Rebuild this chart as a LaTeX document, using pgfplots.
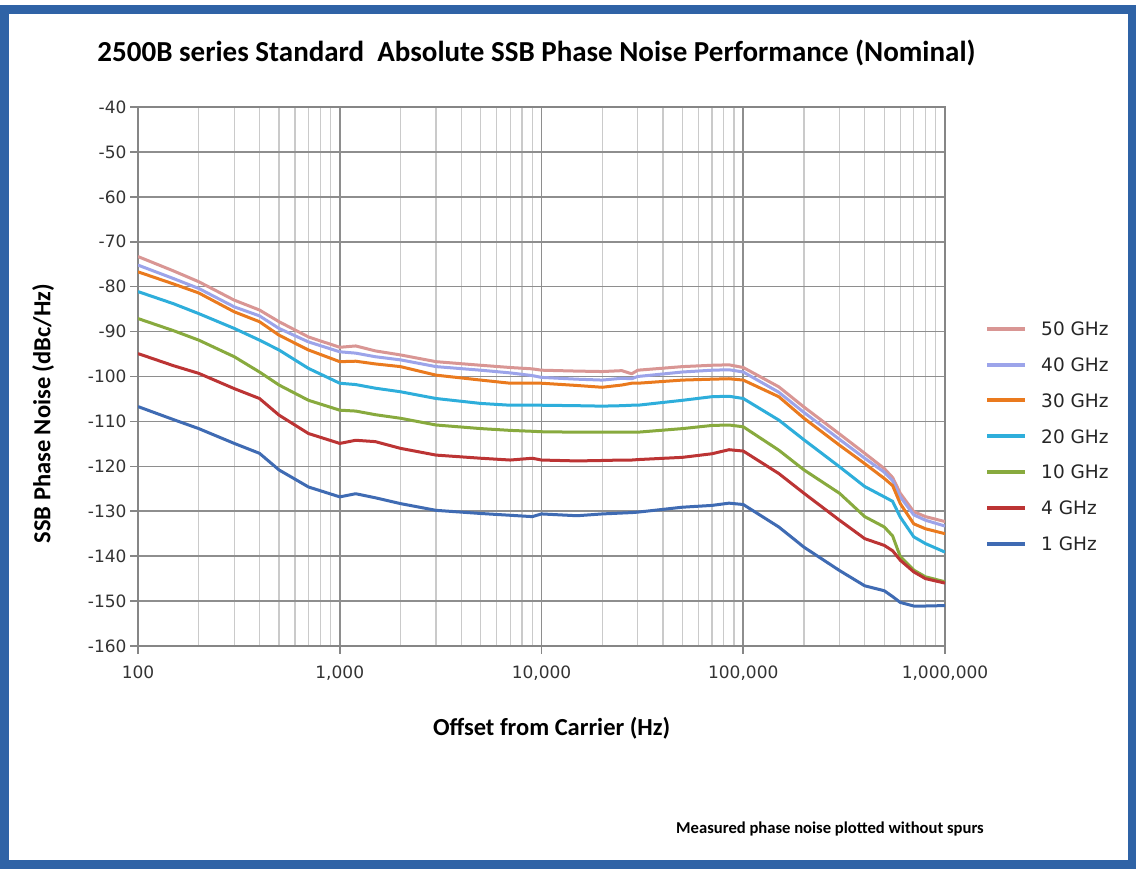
\documentclass[border=0pt]{standalone}
\usepackage{pgfplots}
\pgfplotsset{compat=1.18}
\usepackage{pgfplotstable}
\usepackage{fontspec}
\setmainfont{Carlito}
\newfontfamily\dejavu{DejaVu Sans}

\definecolor{frameblue}{HTML}{2F63A6}
\definecolor{axgray}{HTML}{868686}
\definecolor{majgrid}{HTML}{8E8E8E}
\definecolor{mingrid}{HTML}{CACACA}
\definecolor{c50}{HTML}{D99694}
\definecolor{c40}{HTML}{9CA4EA}
\definecolor{c30}{HTML}{EA7A1E}
\definecolor{c20}{HTML}{2EAEDB}
\definecolor{c10}{HTML}{88AA3E}
\definecolor{c4}{HTML}{BC3434}
\definecolor{c1}{HTML}{3F6BB3}

% offset (Hz)  50GHz  40GHz  30GHz  20GHz  10GHz  4GHz  1GHz
\pgfplotstableread{
f       g50     g40     g30     g20     g10     g4      g1
100     -73.3   -75.2   -76.7   -81.1   -87.1   -94.9   -106.7
150     -76.5   -78.2   -79.4   -83.8   -89.8   -97.6   -109.6
200     -78.9   -80.4   -81.4   -86.0   -91.9   -99.3   -111.6
300     -83.0   -84.5   -85.6   -89.3   -95.6   -102.7  -114.9
400     -85.2   -86.5   -87.8   -91.9   -99.0   -104.9  -117.1
500     -87.8   -89.3   -90.8   -94.1   -101.9  -108.6  -120.8
700     -91.2   -92.3   -94.1   -98.2   -105.3  -112.7  -124.6
1000    -93.5   -94.5   -96.7   -101.5  -107.5  -114.9  -126.8
1200    -93.2   -94.8   -96.6   -101.8  -107.7  -114.2  -126.1
1500    -94.3   -95.6   -97.2   -102.6  -108.5  -114.5  -127.0
2000    -95.2   -96.3   -97.8   -103.4  -109.3  -116.0  -128.3
3000    -96.7   -97.8   -99.7   -104.9  -110.8  -117.5  -129.8
5000    -97.5   -98.6   -100.8  -106.0  -111.6  -118.2  -130.5
7000    -98.0   -99.2   -101.5  -106.4  -112.0  -118.6  -130.9
9000    -98.3   -99.8   -101.5  -106.4  -112.2  -118.2  -131.2
10000   -98.6   -100.2  -101.5  -106.4  -112.3  -118.6  -130.6
15000   -98.8   -100.6  -102.0  -106.5  -112.4  -118.8  -131.0
20000   -98.9   -100.8  -102.4  -106.6  -112.4  -118.7  -130.6
25000   -98.7   -100.4  -101.9  -106.5  -112.4  -118.6  -130.4
28000   -99.4   -100.5  -101.5  -106.4  -112.4  -118.6  -130.3
30000   -98.6   -100.0  -101.5  -106.4  -112.4  -118.5  -130.2
50000   -97.8   -99.0   -100.8  -105.3  -111.6  -118.0  -129.1
70000   -97.5   -98.6   -100.6  -104.5  -110.9  -117.2  -128.7
85000   -97.4   -98.5   -100.5  -104.4  -110.8  -116.3  -128.2
100000  -98.0   -99.0   -100.8  -104.9  -111.2  -116.6  -128.5
150000  -102.3  -103.5  -104.5  -109.7  -116.4  -121.6  -133.5
200000  -106.8  -108.0  -109.3  -114.1  -120.8  -126.0  -138.0
300000  -112.8  -114.0  -115.3  -120.1  -126.0  -132.0  -143.2
400000  -117.1  -118.2  -119.4  -124.5  -131.2  -136.1  -146.6
500000  -120.5  -121.3  -122.7  -126.8  -133.5  -137.6  -147.7
550000  -122.5  -123.2  -124.3  -127.8  -135.5  -138.8  -149.0
600000  -126.0  -126.8  -128.3  -131.3  -140.1  -140.9  -150.3
700000  -130.1  -130.8  -132.8  -135.7  -143.1  -143.5  -151.1
800000  -131.2  -132.0  -133.9  -137.2  -144.6  -145.0  -151.1
1000000 -132.3  -133.3  -135.0  -139.1  -145.7  -146.0  -151.0
}\pn

\begin{document}
\begin{tikzpicture}[x=1pt,y=1pt]
\useasboundingbox (0,0) rectangle (1136,869);
\fill[white] (0,0) rectangle (1136,869);
\draw[frameblue, line width=9pt] (4,4) rectangle (1132,859);

\node[font=\bfseries\fontsize{29}{32}\selectfont] at (536.5,816)
  {2500B series Standard~~Absolute SSB Phase Noise Performance (Nominal)};
\node[font=\bfseries\fontsize{16.6}{18}\selectfont] at (830,40)
  {Measured phase noise plotted without spurs};

\begin{axis}[
  at={(138pt,223pt)}, anchor=south west,
  scale only axis, width=807pt, height=539pt,
  xmode=log, xmin=100, xmax=1000000,
  ymin=-160, ymax=-40,
  xtick={100,1000,10000,100000,1000000},
  xticklabels={100,{1,000},{10,000},{100,000},{1,000,000}},
  minor xtick={200,300,400,500,600,700,800,900,
    2000,3000,4000,5000,6000,7000,8000,9000,
    20000,30000,40000,50000,60000,70000,80000,90000,
    200000,300000,400000,500000,600000,700000,800000,900000},
  ytick={-160,-150,-140,-130,-120,-110,-100,-90,-80,-70,-60,-50,-40},
  yticklabels={-160,-150,-140,-130,-120,-110,-100,-90,-80,-70,-60,-50,-40},
  xmajorgrids, xminorgrids, ymajorgrids,
  major grid style={draw=majgrid, line width=1.6pt},
  minor grid style={draw=mingrid, line width=1.3pt},
  axis line style={draw=axgray, line width=1.6pt},
  tick align=outside, tick pos=left,
  major tick length=8pt, minor tick length=0pt,
  major tick style={draw=axgray, line width=1.6pt},
  minor tick style={draw=none},
  ticklabel style={font=\dejavu\fontsize{17}{18}\selectfont, text=black!80},
  xticklabel style={yshift=-8pt},
  xlabel={Offset from Carrier (Hz)},
  ylabel={SSB Phase Noise (dBc/Hz)},
  label style={font=\bfseries\fontsize{24.5}{26}\selectfont},
  xlabel style={at={(axis description cs:0.5126,-0.152)}, anchor=center},
  ylabel style={at={(axis description cs:-0.1177,0.431)}, anchor=center},
  legend cell align=left,
  legend image code/.code={\draw[#1, line width=4pt] (0pt,2.5pt) -- (38pt,2.5pt);},
  legend style={draw=none, fill=none, inner sep=0pt,
    at={(1.0496,0.600)}, anchor=north west,
    font=\dejavu\fontsize{18.5}{20}\selectfont, text=black!85,
    row sep=18.8pt, column sep=14pt,
    nodes={inner sep=0pt, text height=13pt, text depth=4pt}},
  every axis plot/.append style={line width=3pt, line join=round},
]
\addplot[c50] table[x=f, y=g50] {\pn}; \addlegendentry{50 GHz}
\addplot[c40] table[x=f, y=g40] {\pn}; \addlegendentry{40 GHz}
\addplot[c30] table[x=f, y=g30] {\pn}; \addlegendentry{30 GHz}
\addplot[c20] table[x=f, y=g20] {\pn}; \addlegendentry{20 GHz}
\addplot[c10] table[x=f, y=g10] {\pn}; \addlegendentry{10 GHz}
\addplot[c4]  table[x=f, y=g4]  {\pn}; \addlegendentry{4 GHz}
\addplot[c1]  table[x=f, y=g1]  {\pn}; \addlegendentry{1 GHz}
\end{axis}
\end{tikzpicture}
\end{document}
